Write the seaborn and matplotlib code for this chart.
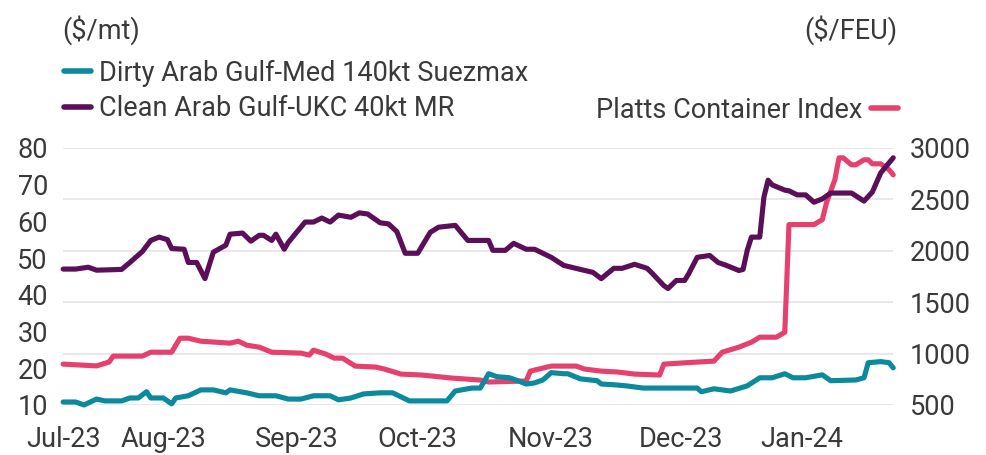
import pandas as pd
import matplotlib
matplotlib.use("Agg")
import matplotlib.pyplot as plt
from matplotlib.lines import Line2D
import seaborn as sns

# Dirty Arab Gulf-Med 140kt Suezmax ($/mt, left axis)
dirty_dates = ["2023-07-08", "2023-07-11", "2023-07-13", "2023-07-16", "2023-07-18", "2023-07-22",
               "2023-07-24", "2023-07-26", "2023-07-28", "2023-07-29",
               "2023-08-01", "2023-08-03", "2023-08-04", "2023-08-07", "2023-08-10", "2023-08-13",
               "2023-08-16", "2023-08-17", "2023-08-21", "2023-08-24", "2023-08-28", "2023-08-31",
               "2023-09-03", "2023-09-06", "2023-09-10", "2023-09-12", "2023-09-15", "2023-09-18",
               "2023-09-22", "2023-09-25", "2023-09-29",
               "2023-10-02", "2023-10-08", "2023-10-10", "2023-10-14", "2023-10-16", "2023-10-18",
               "2023-10-20", "2023-10-23", "2023-10-25", "2023-10-27", "2023-10-29", "2023-10-31",
               "2023-11-02", "2023-11-05", "2023-11-06", "2023-11-09", "2023-11-13", "2023-11-14",
               "2023-11-17", "2023-11-20", "2023-11-24", "2023-11-29",
               "2023-12-02", "2023-12-07", "2023-12-08", "2023-12-11", "2023-12-15", "2023-12-19",
               "2023-12-22", "2023-12-25", "2023-12-28", "2023-12-30",
               "2024-01-02", "2024-01-06", "2024-01-08", "2024-01-14", "2024-01-16", "2024-01-17",
               "2024-01-20", "2024-01-22", "2024-01-23"]
dirty_vals = [10.8, 10.8, 10.0, 11.6, 11.1, 11.1, 11.9, 11.9, 13.6, 11.9,
              11.9, 10.3, 11.9, 12.5, 14.1, 14.1, 13.3, 14.1, 13.3, 12.5, 12.5, 11.6,
              11.6, 12.5, 12.5, 11.4, 11.9, 13.0, 13.3, 13.3, 11.1,
              11.1, 11.1, 13.8, 14.6, 14.6, 18.5, 17.7, 17.4, 16.6, 15.7, 16.0, 16.8,
              18.8, 18.5, 18.5, 17.1, 16.6, 15.7, 15.5, 15.2, 14.6, 14.6,
              14.6, 14.6, 13.6, 14.4, 13.8, 15.2, 17.4, 17.4, 18.5, 17.4,
              17.4, 18.2, 16.6, 16.8, 17.4, 21.5, 21.8, 21.5, 20.1]

# Clean Arab Gulf-UKC 40kt MR ($/mt, left axis)
clean_dates = ["2023-07-08", "2023-07-11", "2023-07-14", "2023-07-16", "2023-07-22", "2023-07-24",
               "2023-07-27", "2023-07-29", "2023-07-31",
               "2023-08-02", "2023-08-03", "2023-08-06", "2023-08-07", "2023-08-09", "2023-08-11",
               "2023-08-13", "2023-08-16", "2023-08-17", "2023-08-20", "2023-08-22", "2023-08-24",
               "2023-08-25", "2023-08-27", "2023-08-28", "2023-08-30", "2023-08-31",
               "2023-09-04", "2023-09-06", "2023-09-08", "2023-09-10", "2023-09-12", "2023-09-15",
               "2023-09-17", "2023-09-19", "2023-09-22", "2023-09-24", "2023-09-26", "2023-09-28",
               "2023-10-01", "2023-10-04", "2023-10-06", "2023-10-10", "2023-10-13", "2023-10-18",
               "2023-10-19", "2023-10-22", "2023-10-24", "2023-10-27", "2023-10-29", "2023-10-31",
               "2023-11-02", "2023-11-05", "2023-11-09", "2023-11-12", "2023-11-14", "2023-11-17",
               "2023-11-19", "2023-11-22", "2023-11-25", "2023-11-26", "2023-11-29", "2023-11-30",
               "2023-12-02", "2023-12-04", "2023-12-05", "2023-12-07", "2023-12-10", "2023-12-12",
               "2023-12-14", "2023-12-17", "2023-12-18", "2023-12-19", "2023-12-20", "2023-12-22",
               "2023-12-23", "2023-12-24", "2023-12-25", "2023-12-28", "2023-12-29", "2023-12-31",
               "2024-01-02", "2024-01-04", "2024-01-06", "2024-01-08", "2024-01-13", "2024-01-16",
               "2024-01-18", "2024-01-20", "2024-01-23"]
clean_vals = [47.0, 47.0, 47.5, 46.7, 46.9, 48.8, 51.8, 54.8, 55.7,
              55.0, 52.6, 52.4, 48.8, 48.8, 44.4, 51.6, 53.5, 56.5, 56.8, 54.6, 56.2,
              56.2, 54.8, 56.5, 52.4, 54.3,
              59.8, 59.8, 60.9, 59.8, 61.7, 61.1, 62.3, 62.0, 59.6, 59.3, 57.2, 51.3,
              51.3, 57.0, 58.4, 58.9, 54.8, 54.8, 52.1, 52.1, 54.0, 52.4, 52.4, 51.3,
              50.2, 48.0, 46.9, 46.1, 44.4, 47.2, 47.2, 48.3, 47.2, 46.1, 42.5, 41.7,
              43.9, 43.9, 45.8, 50.2, 50.7, 48.8, 48.0, 46.6, 46.9, 52.1, 55.7, 55.7,
              66.6, 71.2, 69.9, 68.5, 68.3, 67.2,
              67.2, 65.2, 66.1, 67.7, 67.7, 65.5, 68.0, 73.2, 77.3]

# Platts Container Index ($/FEU, right axis)
pci_dates = ["2023-07-08", "2023-07-16", "2023-07-19", "2023-07-20", "2023-07-27", "2023-07-29",
             "2023-08-03", "2023-08-05", "2023-08-07", "2023-08-10", "2023-08-17", "2023-08-19",
             "2023-08-21", "2023-08-24", "2023-08-27",
             "2023-09-03", "2023-09-05", "2023-09-06", "2023-09-09", "2023-09-11", "2023-09-13",
             "2023-09-16", "2023-09-21", "2023-09-23", "2023-09-27",
             "2023-10-02", "2023-10-09", "2023-10-16", "2023-10-18", "2023-10-27", "2023-10-28",
             "2023-11-02", "2023-11-08", "2023-11-10", "2023-11-14", "2023-11-18", "2023-11-22",
             "2023-11-28", "2023-11-29",
             "2023-12-03", "2023-12-07", "2023-12-11", "2023-12-13", "2023-12-17", "2023-12-20",
             "2023-12-22", "2023-12-26", "2023-12-28", "2023-12-29", "2023-12-31",
             "2024-01-04", "2024-01-06", "2024-01-07", "2024-01-09", "2024-01-10", "2024-01-11",
             "2024-01-13", "2024-01-14", "2024-01-16", "2024-01-17", "2024-01-18", "2024-01-20",
             "2024-01-22", "2024-01-23"]
pci_vals = [897, 880, 917, 975, 975, 1013,
            1013, 1149, 1149, 1120, 1101, 1120, 1081, 1062, 1013,
            1004, 985, 1033, 994, 955, 955, 878, 868, 849, 800,
            791, 762, 742, 723, 733, 829,
            878, 878, 849, 829, 820, 800, 791, 897,
            907, 917, 926, 1013, 1062, 1110, 1159, 1159, 1207, 2254, 2254,
            2254, 2302, 2467, 2690, 2903, 2903, 2835, 2835, 2884, 2884, 2845, 2845,
            2787, 2738]

# where the month labels sit on the axis
tick_dates = ["2023-07-08", "2023-08-01", "2023-09-02", "2023-10-01",
              "2023-11-02", "2023-12-03", "2024-01-01"]
tick_labels = ["Jul-23", "Aug-23", "Sep-23", "Oct-23", "Nov-23", "Dec-23", "Jan-24"]

left_ticks = [10, 20, 30, 40, 50, 60, 70, 80]
right_ticks = [500, 1000, 1500, 2000, 2500, 3000]

TEAL = "#0a8a9c"
PURPLE = "#5b0f58"
PINK = "#e6416e"
TEXT = "#3a3a3a"
FS = 19.5

sns.set_theme(style="white")
plt.rcParams["font.family"] = ["Roboto", "DejaVu Sans"]
plt.rcParams["text.color"] = TEXT

dirty = pd.DataFrame({"date": pd.to_datetime(dirty_dates), "value": dirty_vals})
clean = pd.DataFrame({"date": pd.to_datetime(clean_dates), "value": clean_vals})
pci = pd.DataFrame({"date": pd.to_datetime(pci_dates), "value": pci_vals})

fig = plt.figure(figsize=(9.87, 4.55), dpi=100)
ax = fig.add_axes([0.064, 0.110, 0.841, 0.565])
ax2 = ax.twinx()

# container index sits behind the tanker lines
ax.set_zorder(ax2.get_zorder() + 1)
ax.patch.set_visible(False)

lw = 3.7
sns.lineplot(data=pci, x="date", y="value", ax=ax2, color=PINK, lw=lw, clip_on=False)
sns.lineplot(data=dirty, x="date", y="value", ax=ax, color=TEAL, lw=lw, clip_on=False)
sns.lineplot(data=clean, x="date", y="value", ax=ax, color=PURPLE, lw=lw, clip_on=False)

ax.set_xlim(pd.Timestamp(dirty_dates[0]), pd.Timestamp(dirty_dates[-1]))
ax.set_ylim(10, 80)
ax2.set_ylim(500, 3000)
ax.set_yticks(left_ticks)
ax2.set_yticks(right_ticks)
ax.set_xticks(pd.to_datetime(tick_dates))
ax.set_xticklabels(tick_labels)

for a in (ax, ax2):
    a.set_xlabel("")
    a.set_ylabel("")
    for s in a.spines.values():
        s.set_visible(False)
    a.tick_params(length=0, labelsize=FS, colors=TEXT)
ax.tick_params(axis="y", pad=11)
ax2.tick_params(axis="y", pad=12)
ax.tick_params(axis="x", pad=15)
ax.grid(False)
ax2.grid(axis="y", color="#e6e6e6", lw=1.3)
ax2.grid(axis="x", visible=False)

fig.text(62 / 987, 0.934, "($/mt)", fontsize=FS, ha="left", va="center")
fig.text(897 / 987, 0.934, "($/FEU)", fontsize=FS, ha="right", va="center")

left_handles = [Line2D([], [], color=TEAL, lw=4), Line2D([], [], color=PURPLE, lw=4)]
fig.legend(left_handles, ["Dirty Arab Gulf-Med 140kt Suezmax", "Clean Arab Gulf-UKC 40kt MR"],
           loc="center left", bbox_to_anchor=(64 / 987, 0.80), frameon=False, fontsize=FS,
           handlelength=1.0, handletextpad=0.3, labelspacing=0.3, borderpad=0, borderaxespad=0)
fig.legend([Line2D([], [], color=PINK, lw=4)], ["Platts Container Index"],
           loc="center right", bbox_to_anchor=(898 / 987, 0.758), frameon=False, fontsize=FS,
           handlelength=1.0, handletextpad=0.3, markerfirst=False, borderpad=0, borderaxespad=0)

fig.savefig("out.png", dpi=100)
